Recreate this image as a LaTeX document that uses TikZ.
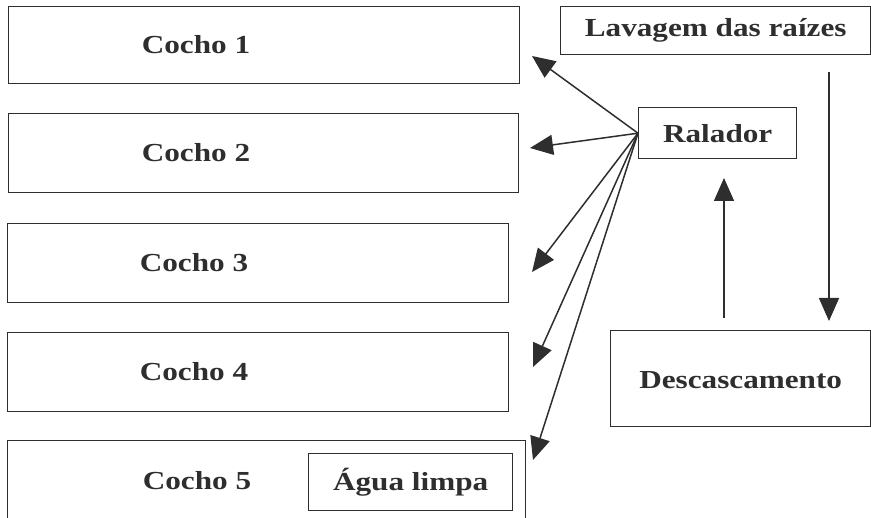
\documentclass[tikz,border=0pt]{standalone}
\usepackage{fontspec}
\setmainfont{Liberation Serif}[FakeStretch=1.2]
\usetikzlibrary{arrows.meta}
\definecolor{ink}{HTML}{2E2E2E}
\tikzset{
  box/.style={draw=ink, line width=1.4pt, inner sep=0pt, anchor=north west},
  lbl/.style={text=ink, font=\fontsize{26}{30}\selectfont\bfseries, inner sep=0pt},
  arr/.style={draw=ink, line width=1.5pt, -{Triangle[length=23pt, width=20pt]}}
}
\begin{document}
\begin{tikzpicture}[x=1pt, y=-1pt]
\useasboundingbox (0,0) rectangle (871,518);
% Cocho boxes
\node[box, minimum width=511pt, minimum height=77pt] (c1) at (8,6) {};
\node[box, minimum width=510pt, minimum height=79pt] (c2) at (8,113) {};
\node[box, minimum width=501pt, minimum height=79pt] (c3) at (7,223) {};
\node[box, minimum width=501pt, minimum height=79pt] (c4) at (7,332) {};
\node[box, minimum width=518pt, minimum height=100pt] (c5) at (7,440) {};
\node[lbl] (t1) at (196,45) {Cocho 1};
\node[lbl] (t2) at (196,153) {Cocho 2};
\node[lbl] (t3) at (194,263) {Cocho 3};
\node[lbl] (t4) at (194,372) {Cocho 4};
\node[lbl] (t5) at (197,481) {Cocho 5};
% Água limpa
\node[box, minimum width=204pt, minimum height=57pt, fill=white] (agua) at (308,453) {};
\node[lbl] at (agua.center) {Água limpa};
% right boxes
\node[box, minimum width=310pt, minimum height=48pt] (lav) at (560,6) {};
\node[lbl] at (lav.center) {Lavagem das raízes};
\node[box, minimum width=158pt, minimum height=51pt] (ral) at (638,107) {};
\node[lbl] at (ral.center) {Ralador};
\node[box, minimum width=260pt, minimum height=96pt] (desc) at (610,330) {};
\node[lbl] at ([yshift=-1pt]desc.center) {Descascamento};
% arrow end points
\coordinate (e1) at (532,56);
\coordinate (e2) at (530,148);
\coordinate (e3) at (532,272);
\coordinate (e4) at (533,367);
\coordinate (e5) at (533,460);
\draw[arr] (ral.west) -- (e1);
\draw[arr] (ral.west) -- (e2);
\draw[arr] (ral.west) -- (e3);
\draw[arr] (ral.west) -- (e4);
\draw[arr] (ral.west) -- (e5);
% vertical arrows
\coordinate (dtop) at (829,72);
\coordinate (dbot) at (829,321);
\draw[arr] (dtop) -- (dbot);
\coordinate (ubot) at (724,318);
\coordinate (utop) at (724,178);
\draw[arr] (ubot) -- (utop);
\end{tikzpicture}
\end{document}
